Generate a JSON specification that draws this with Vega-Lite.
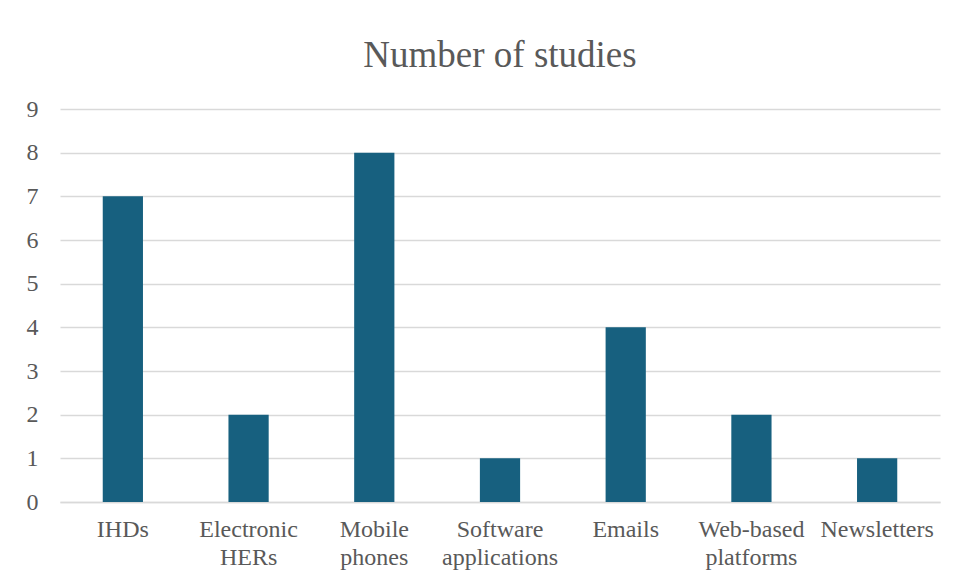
{
  "$schema": "https://vega.github.io/schema/vega-lite/v6.json",
  "width": 880,
  "height": 393,
  "autosize": {"type": "none"},
  "padding": {"left": 60, "top": 109, "right": 18, "bottom": 79},
  "background": "white",
  "title": {
    "text": "Number of studies",
    "font": "Liberation Serif",
    "fontSize": 37,
    "fontWeight": "normal",
    "color": "#595959",
    "anchor": "middle",
    "offset": 22
  },
  "data": {
    "values": [
      {"category": "IHDs", "studies": 7},
      {"category": "Electronic HERs", "studies": 2},
      {"category": "Mobile phones", "studies": 8},
      {"category": "Software applications", "studies": 1},
      {"category": "Emails", "studies": 4},
      {"category": "Web-based platforms", "studies": 2},
      {"category": "Newsletters", "studies": 1}
    ]
  },
  "mark": {"type": "bar", "color": "#17607F"},
  "encoding": {
    "x": {
      "field": "category",
      "type": "nominal",
      "sort": null,
      "scale": {"paddingInner": 0.68, "paddingOuter": 0.34},
      "axis": {
        "title": null,
        "labelAngle": 0,
        "labelFont": "Liberation Serif",
        "labelFontSize": 24,
        "labelColor": "#595959",
        "labelPadding": 15,
        "labelLineHeight": 28,
        "labelExpr": "split(datum.label, ' ')",
        "labelOverlap": false,
        "ticks": false,
        "domainColor": "#d9d9d9",
        "domainWidth": 1.5,
        "labelBaseline": "top"
      }
    },
    "y": {
      "field": "studies",
      "type": "quantitative",
      "scale": {"domain": [0, 9], "nice": false},
      "axis": {
        "title": null,
        "values": [0, 1, 2, 3, 4, 5, 6, 7, 8, 9],
        "labelOverlap": false,
        "labelFlush": false,
        "labelFont": "Liberation Serif",
        "labelFontSize": 24,
        "labelColor": "#595959",
        "labelPadding": 22,
        "ticks": false,
        "domain": false,
        "gridColor": "#d9d9d9",
        "gridWidth": 1.5
      }
    }
  },
  "config": {"view": {"stroke": null}}
}
